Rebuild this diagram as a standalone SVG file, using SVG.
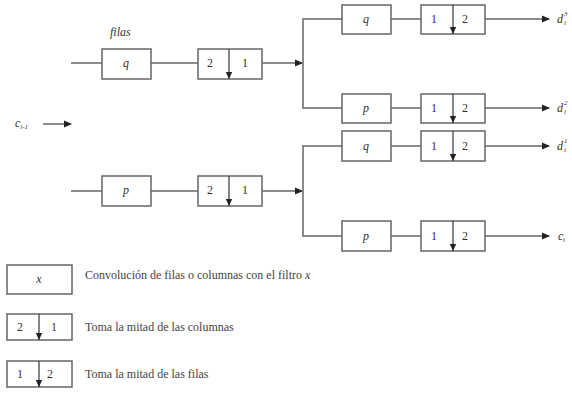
<svg xmlns="http://www.w3.org/2000/svg" width="572" height="394" viewBox="0 0 572 394">
<defs>
<marker id="ah" markerWidth="8" markerHeight="8" refX="7" refY="4" orient="auto" markerUnits="userSpaceOnUse">
<path d="M0,0.5 L8,4 L0,7.5 Z" fill="#222"/>
</marker>
<marker id="ad" markerWidth="8" markerHeight="8" refX="7" refY="4" orient="auto" markerUnits="userSpaceOnUse">
<path d="M0,0.8 L7,4 L0,7.2 Z" fill="#222"/>
</marker>
</defs>
<style>
.box{fill:#fff;stroke:#666;stroke-width:1.5}
.ln{fill:none;stroke:#666;stroke-width:1.5}
.dv{stroke:#444;stroke-width:1.3}
text{font-family:"Liberation Serif","DejaVu Serif",serif}
.t{font-size:12px;fill:#333}
.it{font-size:12px;font-style:italic;fill:#333}
.lg{font-size:12px;fill:#444}
</style>
<rect width="572" height="394" fill="#fff"/>
<g id="connectors">
<line class="ln" x1="71" y1="63" x2="102" y2="63"/>
<line class="ln" x1="151" y1="63" x2="198" y2="63"/>
<line class="ln" x1="262" y1="63" x2="302" y2="63" marker-end="url(#ah)"/>
<line class="ln" x1="71" y1="191" x2="102" y2="191"/>
<line class="ln" x1="151" y1="191" x2="198" y2="191"/>
<line class="ln" x1="262" y1="191" x2="302" y2="191" marker-end="url(#ah)"/>
<line class="ln" x1="43" y1="124" x2="71" y2="124" marker-end="url(#ah)"/>
<polyline class="ln" points="342,19 303,19 303,108 342,108"/>
<polyline class="ln" points="342,146 303,146 303,236 342,236"/>
<line class="ln" x1="391" y1="19" x2="421" y2="19"/>
<line class="ln" x1="391" y1="108" x2="421" y2="108"/>
<line class="ln" x1="391" y1="146" x2="421" y2="146"/>
<line class="ln" x1="391" y1="236" x2="421" y2="236"/>
<line class="ln" x1="485" y1="19" x2="549" y2="19" marker-end="url(#ah)"/>
<line class="ln" x1="485" y1="108" x2="549" y2="108" marker-end="url(#ah)"/>
<line class="ln" x1="485" y1="146" x2="549" y2="146" marker-end="url(#ah)"/>
<line class="ln" x1="485" y1="236" x2="549" y2="236" marker-end="url(#ah)"/>
</g>
<text class="it" x="110" y="36">filas</text>
<g id="in"><text class="it" x="15" y="127" font-size="10">c<tspan font-size="7" dy="2">i-1</tspan></text></g>
<g id="q1"><rect class="box" x="102" y="49" width="49" height="30"/><text class="it" x="126" y="67" text-anchor="middle">q</text></g>
<g id="ds1"><rect class="box" x="198" y="49" width="64" height="30"/><line class="dv" x1="229" y1="49" x2="229" y2="79" marker-end="url(#ad)"/><text class="t" x="207" y="67">2</text><text class="t" x="242" y="67">1</text></g>
<g id="p1"><rect class="box" x="102" y="176" width="49" height="30"/><text class="it" x="126" y="194" text-anchor="middle">p</text></g>
<g id="ds2"><rect class="box" x="198" y="176" width="64" height="30"/><line class="dv" x1="229" y1="176" x2="229" y2="206" marker-end="url(#ad)"/><text class="t" x="207" y="194">2</text><text class="t" x="242" y="194">1</text></g>
<g id="q2"><rect class="box" x="342" y="5" width="49" height="29"/><text class="it" x="366" y="23" text-anchor="middle">q</text></g>
<g id="r1"><rect class="box" x="421" y="5" width="64" height="29"/><line class="dv" x1="453" y1="5" x2="453" y2="34" marker-end="url(#ad)"/><text class="t" x="431" y="23">1</text><text class="t" x="462" y="23">2</text></g>
<g id="p2"><rect class="box" x="342" y="94" width="49" height="29"/><text class="it" x="366" y="112" text-anchor="middle">p</text></g>
<g id="r2"><rect class="box" x="421" y="94" width="64" height="29"/><line class="dv" x1="453" y1="94" x2="453" y2="123" marker-end="url(#ad)"/><text class="t" x="431" y="112">1</text><text class="t" x="462" y="112">2</text></g>
<g id="q3"><rect class="box" x="342" y="131" width="49" height="30"/><text class="it" x="366" y="150" text-anchor="middle">q</text></g>
<g id="r3"><rect class="box" x="421" y="131" width="64" height="30"/><line class="dv" x1="453" y1="131" x2="453" y2="161" marker-end="url(#ad)"/><text class="t" x="431" y="150">1</text><text class="t" x="462" y="150">2</text></g>
<g id="p3"><rect class="box" x="342" y="221" width="49" height="30"/><text class="it" x="366" y="240" text-anchor="middle">p</text></g>
<g id="r4"><rect class="box" x="421" y="221" width="64" height="30"/><line class="dv" x1="453" y1="221" x2="453" y2="251" marker-end="url(#ad)"/><text class="t" x="431" y="240">1</text><text class="t" x="462" y="240">2</text></g>
<g id="out">
<text class="it" x="557" y="23" font-size="12">d<tspan x="564" y="25" font-size="7">i</tspan><tspan x="564" y="16" font-size="7">3</tspan></text>
<text class="it" x="557" y="112" font-size="12">d<tspan x="564" y="114" font-size="7">i</tspan><tspan x="564" y="105" font-size="7">2</tspan></text>
<text class="it" x="557" y="150" font-size="12">d<tspan x="564" y="152" font-size="7">i</tspan><tspan x="564" y="143" font-size="7">1</tspan></text>
<text class="it" x="558" y="240" font-size="11">c<tspan x="563" y="242" font-size="7">i</tspan></text>
</g>
<g id="legend">
<rect class="box" x="7" y="265" width="65" height="29"/><text class="it" x="39" y="283" text-anchor="middle">x</text>
<text class="lg" x="85" y="279">Convolución de filas o columnas con el filtro <tspan font-style="italic">x</tspan></text>
<rect class="box" x="7" y="314" width="65" height="26"/><line class="dv" x1="39" y1="314" x2="39" y2="340" marker-end="url(#ad)"/><text class="t" x="17" y="331">2</text><text class="t" x="51" y="331">1</text>
<text class="lg" x="85" y="331">Toma la mitad de las columnas</text>
<rect class="box" x="7" y="361" width="65" height="26"/><line class="dv" x1="39" y1="361" x2="39" y2="387" marker-end="url(#ad)"/><text class="t" x="17" y="378">1</text><text class="t" x="47" y="378">2</text>
<text class="lg" x="85" y="378">Toma la mitad de las filas</text>
</g>
</svg>
